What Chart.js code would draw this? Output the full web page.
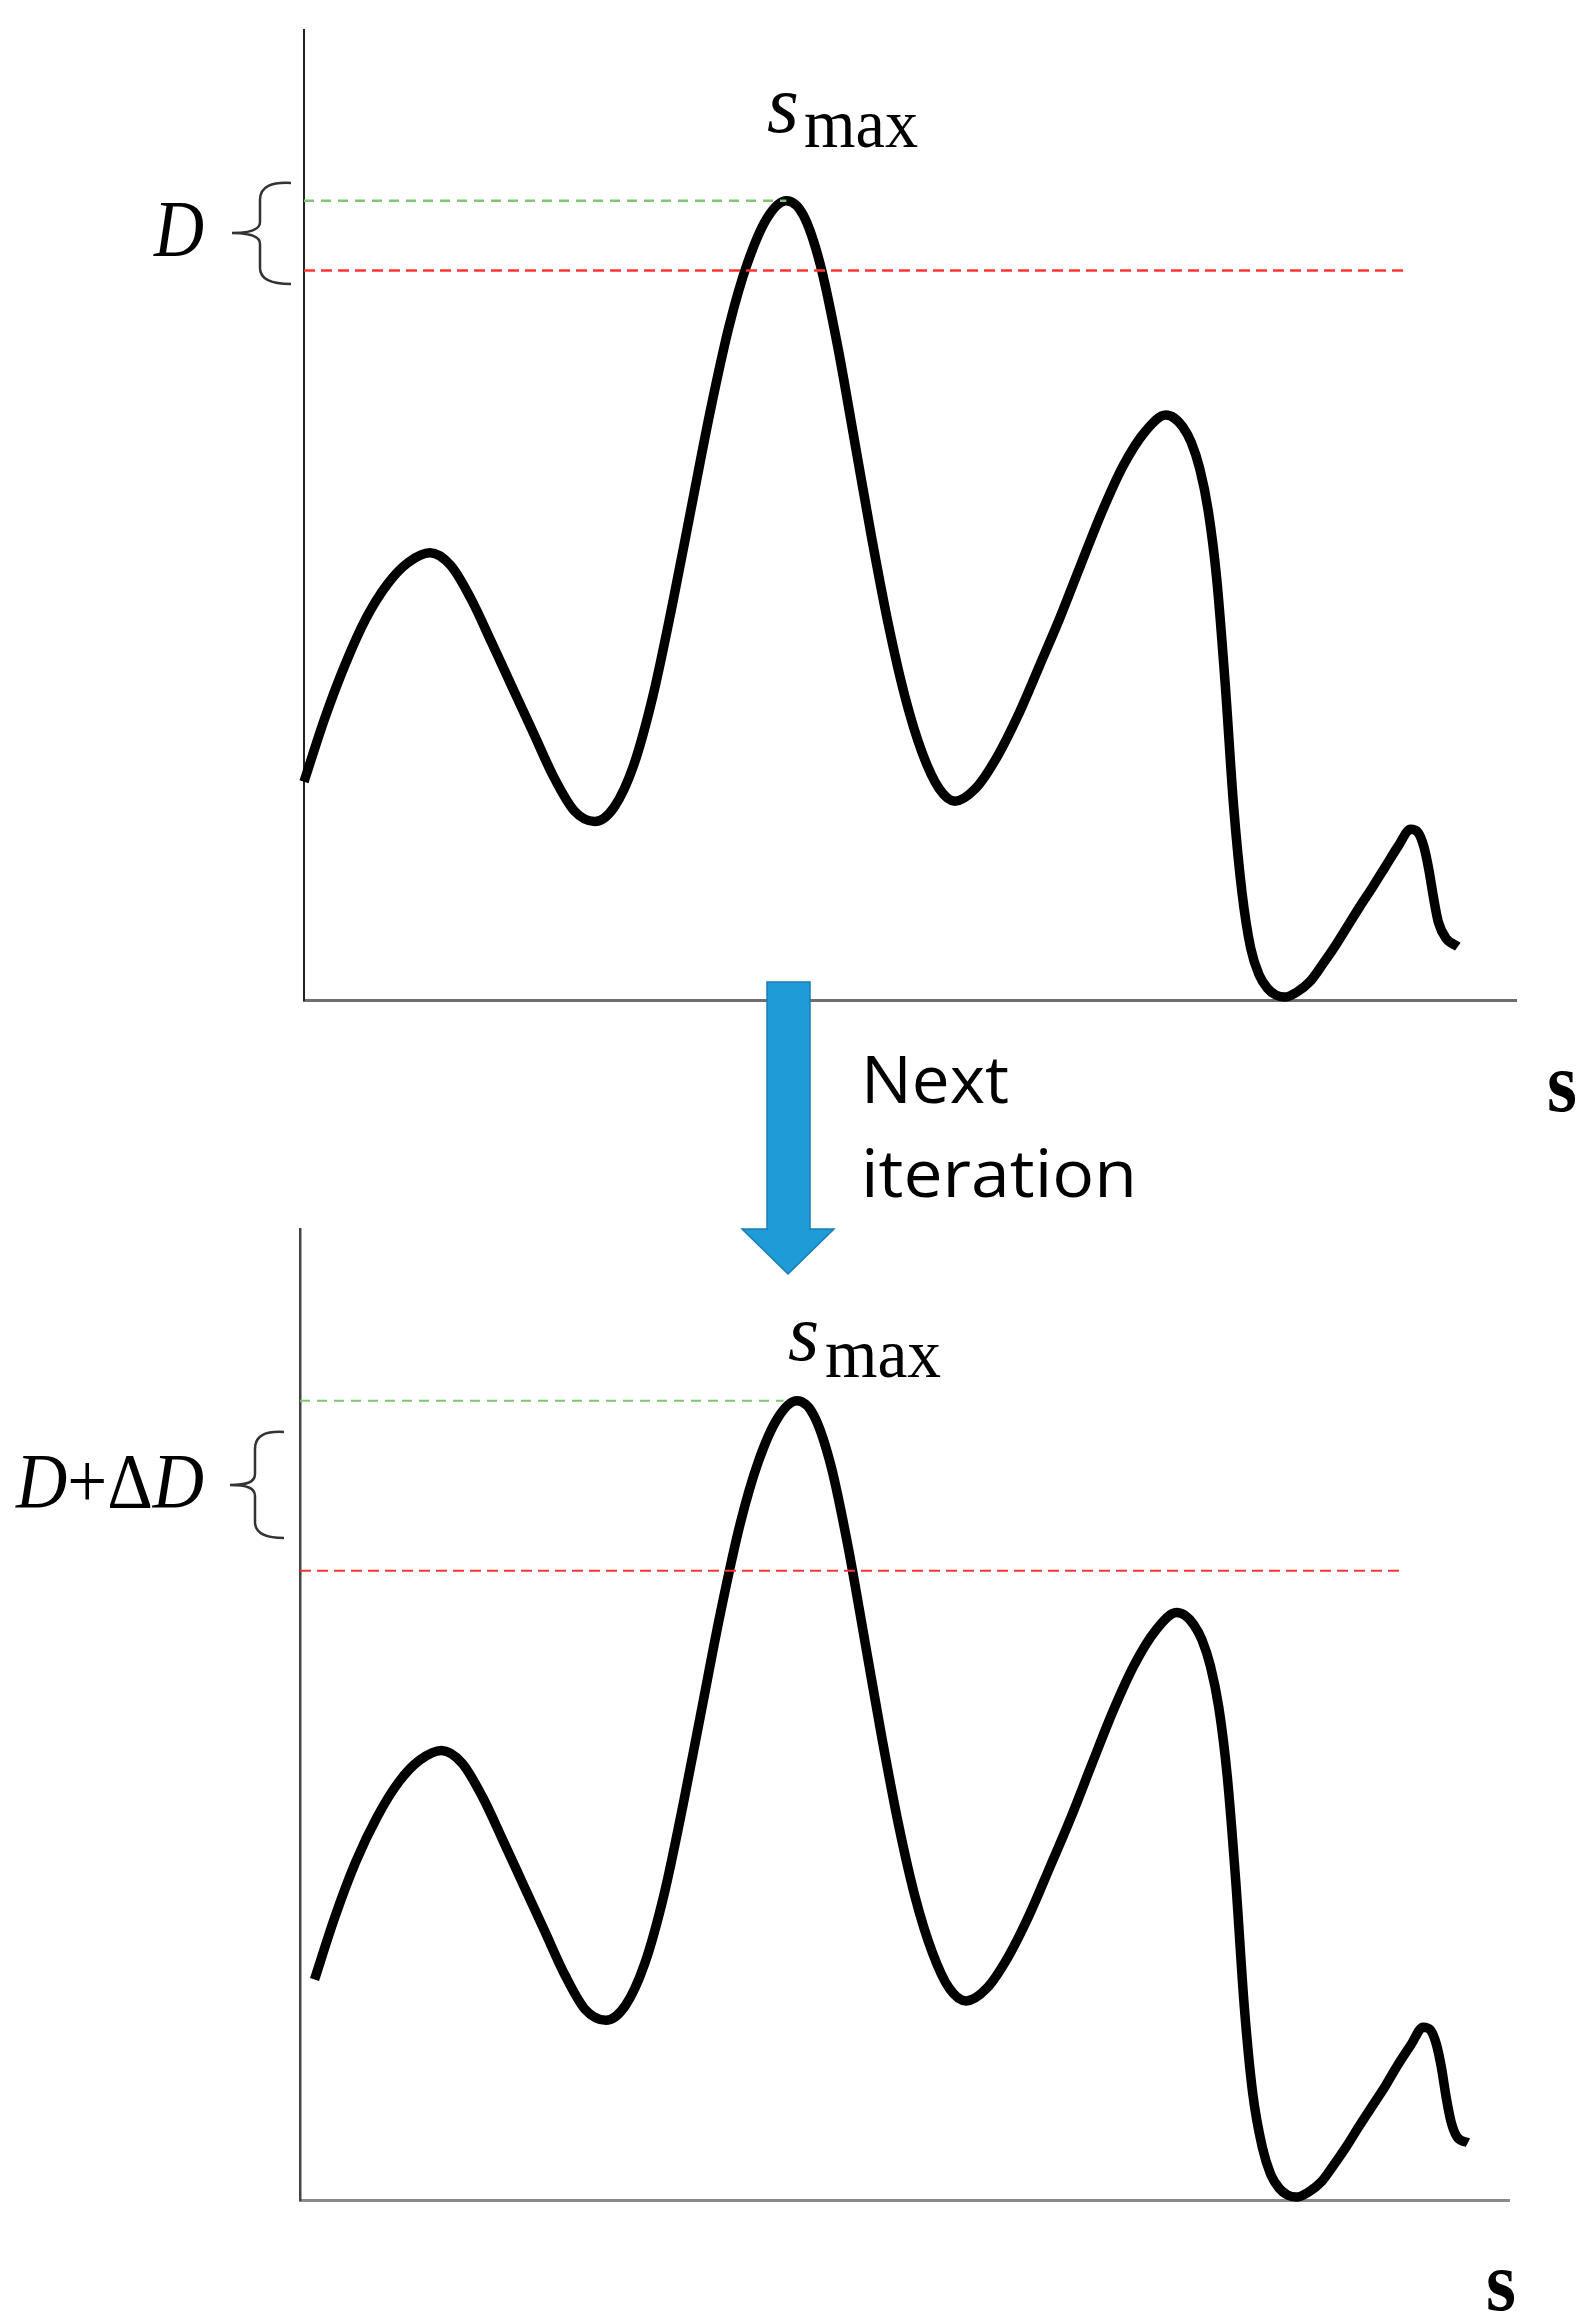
<!DOCTYPE html>
<html>
<head>
<meta charset="utf-8">
<script src="https://cdn.jsdelivr.net/npm/chart.js@4.4.1/dist/chart.umd.min.js"></script>
<style>
  html, body { margin: 0; padding: 0; background: #fff; }
  #page { position: relative; width: 1588px; height: 2324px; overflow: hidden; background: #fff; }
  .wrap { position: absolute; left: 0; }
  #overlay { position: absolute; left: 0; top: 0; }
</style>
</head>
<body>
<div id="page">
  <div class="wrap" style="top:0;width:1588px;height:1160px;"><canvas id="c1" width="1588" height="1160"></canvas></div>
  <div class="wrap" style="top:1160px;width:1588px;height:1164px;"><canvas id="c2" width="1588" height="1164"></canvas></div>
  <svg id="overlay" width="1588" height="2324" xmlns="http://www.w3.org/2000/svg">
    <!-- iteration arrow -->
    <polygon points="767,982 810,982 810,1229 834,1229 788,1274 742,1229 767,1229"
             fill="#1f9cd8" stroke="#1b7db6" stroke-width="1.5"/>
    <!-- braces -->
    <path d="M291,183 C272,182 260,186 260,200 L260,222 C260,230 250,233 232,233 C250,233 260,236 260,244 L260,268 C260,280 272,284 291,284"
          fill="none" stroke="#333" stroke-width="2.5"/>
    <path d="M284,1432 C266,1431 255,1435 255,1449 L255,1474 C255,1482 247,1485 230,1485 C247,1485 255,1488 255,1496 L255,1522 C255,1534 266,1538 284,1538"
          fill="none" stroke="#333" stroke-width="2.5"/>
    <!-- labels -->
    <text x="154" y="256" font-family="Liberation Serif" font-style="italic" font-size="80" textLength="50" lengthAdjust="spacingAndGlyphs" fill="#000">D</text>
    <text x="16" y="1507" font-family="Liberation Serif" font-size="78" textLength="188" lengthAdjust="spacingAndGlyphs" fill="#000"><tspan font-style="italic">D</tspan>+Δ<tspan font-style="italic">D</tspan></text>

    <text x="767" y="132" font-family="Liberation Serif" font-style="italic" font-size="82" fill="#000">s</text>
    <text x="804" y="147" font-family="Liberation Serif" font-size="70" textLength="114" lengthAdjust="spacingAndGlyphs" fill="#000">max</text>
    <text x="788" y="1360" font-family="Liberation Serif" font-style="italic" font-size="80" fill="#000">s</text>
    <text x="825" y="1377" font-family="Liberation Serif" font-size="70" textLength="116" lengthAdjust="spacingAndGlyphs" fill="#000">max</text>

    <text x="861" y="1103" font-family="Open Sans" font-size="65" textLength="148" lengthAdjust="spacingAndGlyphs" fill="#000">Next</text>
    <text x="861" y="1197" font-family="Open Sans" font-size="65" textLength="276" lengthAdjust="spacingAndGlyphs" fill="#000">iteration</text>

    <text x="1547" y="1111" font-family="Liberation Serif" font-weight="bold" font-size="84" textLength="30" lengthAdjust="spacingAndGlyphs" fill="#000">s</text>
    <text x="1486" y="2310" font-family="Liberation Serif" font-weight="bold" font-size="84" textLength="30" lengthAdjust="spacingAndGlyphs" fill="#000">s</text>
  </svg>
</div>

<script>
// ---------- data (axis units: 0..100 on both axes) ----------
// Upper panel: signal along s
const topS = [0.0, 1.7, 3.4, 5.1, 6.9, 8.6, 10.4, 12.1, 13.8, 15.5, 17.2, 18.9, 20.6, 22.3, 24.0, 25.6, 27.2, 28.8, 30.4, 31.9, 33.5, 35.1, 36.6, 38.2, 39.8, 41.2, 42.6, 44.0, 45.4, 46.8, 48.2, 49.6, 51.0, 52.4, 53.7, 55.4, 57.2, 58.9, 60.7, 62.4, 64.1, 65.9, 67.6, 69.4, 71.1, 71.8, 72.5, 73.2, 73.9, 74.6, 75.3, 76.0, 76.7, 77.4, 78.1, 78.8, 79.5, 80.2, 80.9, 81.9, 83.0, 84.0, 85.1, 86.1, 87.1, 88.2, 89.2, 90.3, 91.3, 91.9, 92.4, 92.8, 93.2, 93.6, 94.2, 95.2];
const topSignal = [22.5, 29.0, 34.6, 39.3, 42.9, 45.1, 46.1, 44.8, 41.3, 36.8, 32.2, 27.6, 23.0, 19.5, 18.4, 19.9, 24.2, 31.4, 40.8, 50.4, 60.6, 69.6, 76.0, 80.6, 82.4, 80.9, 75.8, 67.6, 57.8, 47.9, 38.8, 31.2, 25.5, 21.8, 20.5, 21.8, 25.1, 29.3, 34.5, 39.5, 44.9, 50.5, 55.1, 58.6, 60.3, 60.0, 59.1, 57.5, 54.8, 50.5, 43.5, 32.7, 20.0, 11.0, 5.4, 2.6, 1.2, 0.5, 0.3, 0.8, 1.9, 3.6, 5.6, 7.6, 9.6, 11.7, 13.7, 15.9, 17.6, 17.3, 15.8, 13.5, 10.5, 8.0, 6.4, 5.5];
// Upper panel reference levels: [level, end of the dashed line along s]
const topMaxLevel = [82.4, 39.8];   // green dashed (s_max)
const topCutLevel = [75.2, 90.8];   // red dashed (s_max - D)

// Lower panel (next iteration)
const botS = [1.2, 2.9, 4.6, 6.4, 8.2, 9.9, 11.7, 13.4, 15.1, 16.8, 18.5, 20.2, 21.9, 23.6, 25.3, 26.9, 28.5, 30.1, 31.7, 33.2, 34.8, 36.4, 37.9, 39.5, 41.1, 42.5, 43.9, 45.3, 46.7, 48.1, 49.5, 50.9, 52.3, 53.7, 55.1, 56.8, 58.6, 60.3, 62.1, 63.8, 65.5, 67.3, 69.0, 70.8, 72.5, 73.2, 73.9, 74.6, 75.3, 76.0, 76.7, 77.4, 78.1, 78.8, 79.6, 80.3, 81.0, 81.7, 82.4, 83.4, 84.5, 85.5, 86.6, 87.6, 88.7, 89.8, 90.8, 91.9, 92.9, 93.5, 94.0, 94.4, 94.8, 95.2, 95.7, 96.6];
const botSignal = [22.7, 29.2, 34.8, 39.5, 43.1, 45.3, 46.3, 45.0, 41.5, 37.0, 32.4, 27.8, 23.2, 19.6, 18.5, 20.0, 24.3, 31.4, 40.8, 50.4, 60.6, 69.6, 76.0, 80.5, 82.3, 80.8, 75.7, 67.5, 57.7, 47.8, 38.7, 31.1, 25.5, 21.8, 20.5, 21.8, 25.1, 29.3, 34.5, 39.5, 44.9, 50.5, 55.1, 58.7, 60.5, 60.2, 59.3, 57.7, 55.0, 50.7, 43.6, 32.8, 20.0, 11.0, 5.4, 2.6, 1.2, 0.5, 0.3, 0.8, 1.9, 3.6, 5.6, 7.6, 9.7, 11.8, 13.9, 16.0, 17.8, 17.5, 16.0, 13.7, 10.6, 8.1, 6.5, 5.9];
const botMaxLevel = [82.3, 40.0];
const botCutLevel = [64.8, 91.0];

const axisRange = [0, 100];

// ---------- helpers ----------
function toPoints(xs, ys) { return xs.map((x, i) => ({ x: x, y: ys[i] })); }
function levelLine(lv) { return [{ x: axisRange[0], y: lv[0] }, { x: lv[1], y: lv[0] }]; }

function makeChart(canvasId, xs, ys, maxLv, cutLv, pad, style) {
  const ctx = document.getElementById(canvasId).getContext('2d');
  return new Chart(ctx, {
    type: 'scatter',
    data: {
      datasets: [
        {
          label: 'max level', data: levelLine(maxLv), showLine: true,
          borderColor: '#7cc76f', borderWidth: style.dashW, borderDash: [10, 7],
          pointRadius: 0, clip: false, order: 1
        },
        {
          label: 'cut level', data: levelLine(cutLv), showLine: true,
          borderColor: '#ff3535', borderWidth: style.dashW, borderDash: [11, 6],
          pointRadius: 0, clip: false, order: 1
        },
        {
          label: 'signal', data: toPoints(xs, ys), showLine: true,
          borderColor: '#000', borderWidth: 9.5, cubicInterpolationMode: 'monotone',
          borderCapStyle: 'butt', borderJoinStyle: 'round',
          pointRadius: 0, clip: false, order: 2
        }
      ]
    },
    options: {
      responsive: false,
      devicePixelRatio: 1,
      animation: false,
      events: [],
      layout: { padding: pad },
      plugins: { legend: { display: false }, tooltip: { enabled: false }, title: { display: false } },
      scales: {
        x: {
          type: 'linear', min: axisRange[0], max: axisRange[1], position: 'bottom',
          ticks: { display: false }, grid: { display: false, drawTicks: false },
          border: { display: true, color: style.xColor, width: 3 }
        },
        y: {
          type: 'linear', min: axisRange[0], max: axisRange[1], position: 'left',
          ticks: { display: false }, grid: { display: false, drawTicks: false },
          border: { display: true, color: style.yColor, width: style.yW }
        }
      }
    }
  });
}

makeChart('c1', topS, topSignal, topMaxLevel, topCutLevel,
  { left: 304, top: 30, right: 72, bottom: 160 },
  { dashW: 2.5, xColor: '#6e6e6e', yColor: '#222', yW: 2 });

makeChart('c2', botS, botSignal, botMaxLevel, botCutLevel,
  { left: 300, top: 69, right: 79, bottom: 124 },
  { dashW: 2, xColor: '#8a8a8a', yColor: '#444', yW: 2.5 });
</script>
</body>
</html>
